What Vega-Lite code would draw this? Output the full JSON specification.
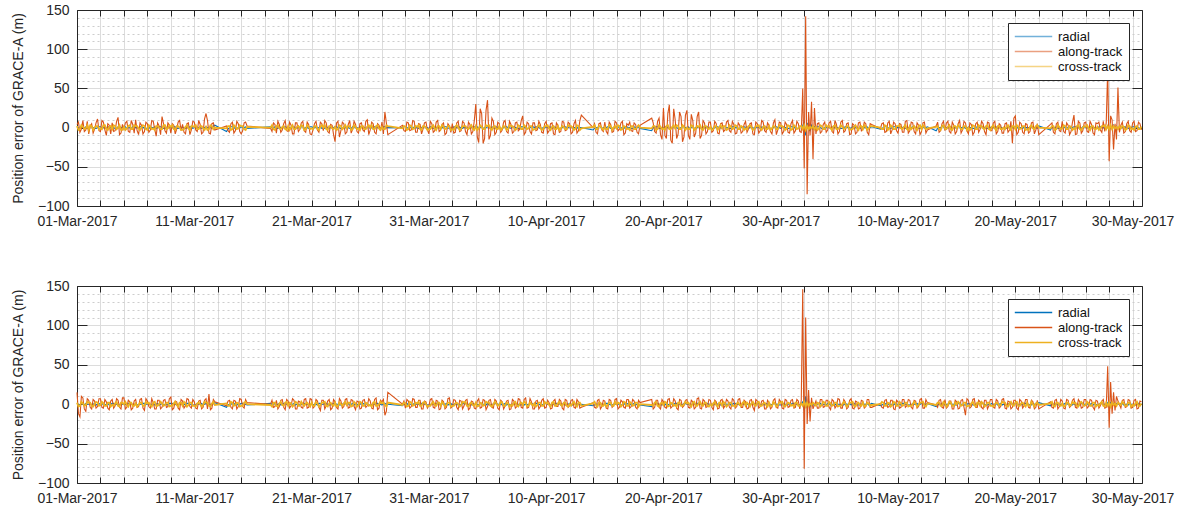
{
  "$schema": "https://vega.github.io/schema/vega-lite/v6.json",
  "background": "white",
  "padding": {"left": 11, "top": 3, "right": 5, "bottom": 5},
  "config": {
    "font": "Liberation Sans",
    "view": {"stroke": null},
    "axis": {
      "labelFont": "Liberation Sans",
      "labelFontSize": 14,
      "labelColor": "#262626",
      "titleFont": "Liberation Sans",
      "titleFontSize": 14,
      "titleFontWeight": "normal",
      "titleColor": "#262626",
      "domainColor": "#262626",
      "domainWidth": 1,
      "tickColor": "#262626",
      "tickWidth": 1,
      "gridColor": "#dcdcdc",
      "gridWidth": 1,
      "labelFlush": false,
      "labelOverlap": false,
      "labelBound": false
    },
    "legend": {
      "orient": "top-right",
      "offset": 13,
      "fillColor": "white",
      "strokeColor": "#262626",
      "padding": 6,
      "symbolType": "stroke",
      "symbolSize": 1400,
      "symbolStrokeWidth": 1.5,
      "clipHeight": 15,
      "labelFont": "Liberation Sans",
      "labelFontSize": 13,
      "labelColor": "#111111",
      "labelOffset": 5,
      "rowPadding": 0
    }
  },
  "datasets": {
    "p1": [
      {"d":0,"r":1,"a":4,"c":2},{"d":0.25,"r":-1,"a":-6,"c":-2},{"d":0.5,"r":0,"a":9,"c":1},{"d":0.75,"r":1,"a":-3,"c":-1},
      {"d":1,"r":0,"a":-8,"c":-3},{"d":1.25,"r":1,"a":5,"c":2},{"d":1.5,"r":-1,"a":-2,"c":0},{"d":1.75,"r":0,"a":11,"c":2},
      {"d":2,"r":1,"a":-5,"c":-1},{"d":2.25,"r":0,"a":7,"c":3},{"d":2.5,"r":-1,"a":-10,"c":-2},{"d":2.75,"r":1,"a":3,"c":1},
      {"d":3,"r":0,"a":6,"c":-2},{"d":3.25,"r":-1,"a":-4,"c":2},{"d":3.5,"r":1,"a":13,"c":0},{"d":3.75,"r":0,"a":-7,"c":-3},
      {"d":4,"r":1,"a":-2,"c":1},{"d":4.25,"r":-1,"a":8,"c":-1},{"d":4.5,"r":0,"a":-6,"c":3},{"d":4.75,"r":1,"a":4,"c":-2},
      {"d":5,"r":0,"a":10,"c":2},{"d":5.25,"r":-1,"a":-9,"c":-1},{"d":5.5,"r":1,"a":3,"c":0},{"d":5.75,"r":0,"a":-5,"c":2},
      {"d":6,"r":-1,"a":5,"c":-3},{"d":6.25,"r":1,"a":-3,"c":1},{"d":6.5,"r":0,"a":8,"c":-1},{"d":6.75,"r":-1,"a":-11,"c":2},
      {"d":7,"r":1,"a":2,"c":0},{"d":7.25,"r":0,"a":14,"c":-2},{"d":7.5,"r":-1,"a":-4,"c":3},{"d":7.75,"r":1,"a":6,"c":-1},
      {"d":8,"r":0,"a":-7,"c":1},{"d":8.25,"r":1,"a":3,"c":-2},{"d":8.5,"r":-1,"a":-2,"c":2},{"d":8.75,"r":0,"a":9,"c":0},
      {"d":9,"r":1,"a":4,"c":-3},{"d":9.25,"r":-1,"a":-8,"c":1},{"d":9.5,"r":0,"a":6,"c":-1},{"d":9.75,"r":1,"a":-3,"c":2},
      {"d":10,"r":0,"a":7,"c":1},{"d":10.25,"r":-1,"a":-5,"c":-2},{"d":10.5,"r":1,"a":4,"c":2},{"d":10.75,"r":0,"a":-6,"c":-1},
      {"d":11,"r":1,"a":18,"c":1},{"d":11.25,"r":0,"a":-7,"c":-2},{"d":11.5,"r":-1,"a":5,"c":2},{"d":11.75,"r":3,"a":-3,"c":0},
      {"d":12.75,"r":-5,"a":2,"c":-1},
      {"d":13,"r":0,"a":-6,"c":2},{"d":13.25,"r":1,"a":7,"c":-2},{"d":13.5,"r":-1,"a":-4,"c":1},{"d":13.75,"r":0,"a":5,"c":-1},
      {"d":14,"r":1,"a":-8,"c":2},{"d":14.25,"r":0,"a":6,"c":-2},{"d":14.5,"r":-1,"a":2,"c":1},
      {"d":16.5,"r":1,"a":-1,"c":0},{"d":16.75,"r":0,"a":6,"c":-2},
      {"d":17,"r":-1,"a":-7,"c":2},{"d":17.25,"r":1,"a":4,"c":-1},{"d":17.5,"r":0,"a":-3,"c":1},{"d":17.75,"r":1,"a":9,"c":-2},
      {"d":18,"r":-1,"a":-5,"c":2},{"d":18.25,"r":0,"a":3,"c":0},{"d":18.5,"r":1,"a":-8,"c":-2},{"d":18.75,"r":0,"a":6,"c":1},
      {"d":19,"r":-1,"a":-2,"c":-1},{"d":19.25,"r":1,"a":8,"c":2},{"d":19.5,"r":0,"a":-6,"c":-2},{"d":19.75,"r":-1,"a":4,"c":1},
      {"d":20,"r":1,"a":-9,"c":-1},{"d":20.25,"r":0,"a":5,"c":2},{"d":20.5,"r":-1,"a":-3,"c":-2},{"d":20.75,"r":1,"a":7,"c":1},
      {"d":21,"r":0,"a":-4,"c":0},{"d":21.25,"r":1,"a":6,"c":-2},{"d":21.5,"r":-1,"a":-7,"c":2},{"d":21.75,"r":0,"a":3,"c":-1},
      {"d":22,"r":1,"a":-18,"c":1},{"d":22.25,"r":0,"a":8,"c":-2},{"d":22.5,"r":-1,"a":-4,"c":2},{"d":22.75,"r":1,"a":5,"c":0},
      {"d":23,"r":0,"a":-6,"c":-1},{"d":23.25,"r":-1,"a":9,"c":2},{"d":23.5,"r":1,"a":-2,"c":-2},{"d":23.75,"r":0,"a":4,"c":1},
      {"d":24,"r":-1,"a":-7,"c":-1},{"d":24.25,"r":1,"a":6,"c":2},{"d":24.5,"r":0,"a":-5,"c":-2},{"d":24.75,"r":1,"a":10,"c":1},
      {"d":25,"r":-1,"a":-3,"c":0},{"d":25.25,"r":0,"a":5,"c":-2},{"d":25.5,"r":1,"a":-8,"c":2},{"d":25.75,"r":0,"a":3,"c":-1},
      {"d":26,"r":-1,"a":7,"c":1},{"d":26.25,"r":1,"a":20,"c":-2},{"d":26.5,"r":0,"a":-9,"c":2},
      {"d":27.75,"r":0,"a":3,"c":-1},
      {"d":28,"r":1,"a":-5,"c":1},{"d":28.25,"r":-1,"a":6,"c":-2},{"d":28.5,"r":0,"a":-3,"c":2},{"d":28.75,"r":1,"a":8,"c":-1},
      {"d":29,"r":0,"a":-6,"c":1},{"d":29.25,"r":-1,"a":4,"c":-2},{"d":29.5,"r":1,"a":-2,"c":2},{"d":29.75,"r":0,"a":7,"c":0},
      {"d":30,"r":-1,"a":-8,"c":-2},{"d":30.25,"r":1,"a":5,"c":1},{"d":30.5,"r":0,"a":-4,"c":-1},{"d":30.75,"r":1,"a":9,"c":2},
      {"d":31,"r":-1,"a":-3,"c":-2},{"d":31.25,"r":0,"a":6,"c":1},{"d":31.5,"r":1,"a":-7,"c":-1},{"d":31.75,"r":0,"a":2,"c":2},
      {"d":32,"r":-1,"a":5,"c":-2},{"d":32.25,"r":1,"a":-6,"c":1},{"d":32.5,"r":0,"a":8,"c":0},{"d":32.75,"r":-1,"a":-4,"c":-2},
      {"d":33,"r":1,"a":6,"c":2},{"d":33.25,"r":0,"a":-9,"c":-1},{"d":33.5,"r":-1,"a":4,"c":1},{"d":33.75,"r":1,"a":-5,"c":-2},
      {"d":34,"r":0,"a":30,"c":2},{"d":34.25,"r":-1,"a":-19,"c":-1},{"d":34.5,"r":1,"a":18,"c":1},{"d":34.75,"r":0,"a":-14,"c":-2},
      {"d":35,"r":1,"a":35,"c":2},{"d":35.25,"r":-1,"a":-10,"c":-1},{"d":35.5,"r":0,"a":8,"c":1},{"d":35.75,"r":1,"a":-6,"c":-2},
      {"d":36,"r":0,"a":5,"c":2},{"d":36.25,"r":-1,"a":-3,"c":-1},{"d":36.5,"r":1,"a":9,"c":1},{"d":36.75,"r":0,"a":-7,"c":-2},
      {"d":37,"r":-1,"a":4,"c":2},{"d":37.25,"r":1,"a":-5,"c":0},{"d":37.5,"r":0,"a":7,"c":-1},{"d":37.75,"r":-1,"a":-2,"c":2},
      {"d":38,"r":1,"a":15,"c":-2},{"d":38.25,"r":0,"a":-6,"c":1},{"d":38.5,"r":-1,"a":5,"c":-1},{"d":38.75,"r":1,"a":-8,"c":2},
      {"d":39,"r":0,"a":6,"c":-2},{"d":39.25,"r":1,"a":-3,"c":1},{"d":39.5,"r":-1,"a":4,"c":0},{"d":39.75,"r":0,"a":-7,"c":-2},
      {"d":40,"r":1,"a":8,"c":2},{"d":40.25,"r":0,"a":-4,"c":-1},{"d":40.5,"r":-1,"a":6,"c":1},{"d":40.75,"r":1,"a":-9,"c":-2},
      {"d":41,"r":0,"a":3,"c":2},{"d":41.25,"r":-1,"a":-5,"c":-1},{"d":41.5,"r":1,"a":7,"c":1},{"d":41.75,"r":0,"a":-3,"c":-2},
      {"d":42,"r":1,"a":5,"c":2},{"d":42.25,"r":-1,"a":-6,"c":0},{"d":42.5,"r":0,"a":9,"c":-1},{"d":42.75,"r":1,"a":-4,"c":2},
      {"d":43,"r":0,"a":16,"c":-1},
      {"d":44,"r":-3,"a":0,"c":1},{"d":44.25,"r":0,"a":-6,"c":-2},{"d":44.5,"r":1,"a":5,"c":2},{"d":44.75,"r":-1,"a":-3,"c":-1},
      {"d":45,"r":0,"a":7,"c":1},{"d":45.25,"r":1,"a":-8,"c":-2},{"d":45.5,"r":-1,"a":4,"c":2},{"d":45.75,"r":0,"a":-5,"c":0},
      {"d":46,"r":1,"a":6,"c":-1},{"d":46.25,"r":0,"a":-2,"c":2},{"d":46.5,"r":-1,"a":8,"c":-2},{"d":46.75,"r":1,"a":-7,"c":1},
      {"d":47,"r":0,"a":3,"c":-1},{"d":47.25,"r":-1,"a":-4,"c":2},{"d":47.5,"r":1,"a":6,"c":-2},{"d":47.75,"r":0,"a":-6,"c":1},
      {"d":48,"r":-1,"a":3,"c":0},
      {"d":49,"r":-4,"a":12,"c":-1},{"d":49.25,"r":0,"a":-5,"c":2},{"d":49.5,"r":1,"a":8,"c":-2},{"d":49.75,"r":-1,"a":-9,"c":1},
      {"d":50,"r":0,"a":25,"c":-1},{"d":50.25,"r":1,"a":-14,"c":2},{"d":50.5,"r":-1,"a":29,"c":-2},{"d":50.75,"r":0,"a":-20,"c":1},
      {"d":51,"r":1,"a":10,"c":-1},{"d":51.25,"r":-1,"a":-8,"c":2},{"d":51.5,"r":0,"a":14,"c":-2},{"d":51.75,"r":1,"a":-12,"c":1},
      {"d":52,"r":0,"a":22,"c":0},{"d":52.25,"r":-1,"a":-15,"c":-2},{"d":52.5,"r":1,"a":9,"c":2},{"d":52.75,"r":0,"a":-7,"c":-1},
      {"d":53,"r":1,"a":20,"c":1},{"d":53.25,"r":-1,"a":-10,"c":-2},{"d":53.5,"r":0,"a":6,"c":2},{"d":53.75,"r":1,"a":-5,"c":-1},
      {"d":54,"r":0,"a":7,"c":1},{"d":54.25,"r":-1,"a":-4,"c":-2},{"d":54.5,"r":1,"a":5,"c":2},{"d":54.75,"r":0,"a":-8,"c":0},
      {"d":55,"r":-1,"a":6,"c":-1},{"d":55.25,"r":1,"a":-3,"c":2},{"d":55.5,"r":0,"a":9,"c":-2},{"d":55.75,"r":-1,"a":-6,"c":1},
      {"d":56,"r":1,"a":4,"c":-1},{"d":56.25,"r":0,"a":-7,"c":2},{"d":56.5,"r":-1,"a":3,"c":-2},{"d":56.75,"r":1,"a":-5,"c":1},
      {"d":57,"r":0,"a":8,"c":-1},{"d":57.25,"r":-1,"a":-2,"c":2},{"d":57.5,"r":1,"a":6,"c":0},{"d":57.75,"r":0,"a":-9,"c":-2},
      {"d":58,"r":1,"a":5,"c":2},{"d":58.25,"r":-1,"a":-4,"c":-1},{"d":58.5,"r":0,"a":7,"c":1},{"d":58.75,"r":1,"a":-6,"c":-2},
      {"d":59,"r":0,"a":3,"c":2},{"d":59.25,"r":-1,"a":-8,"c":-1},{"d":59.5,"r":1,"a":10,"c":1},{"d":59.75,"r":0,"a":-3,"c":-2},
      {"d":60,"r":-1,"a":6,"c":2},{"d":60.25,"r":1,"a":-5,"c":0},{"d":60.5,"r":0,"a":4,"c":-1},{"d":60.75,"r":-1,"a":-7,"c":2},
      {"d":61,"r":1,"a":9,"c":-2},{"d":61.25,"r":0,"a":-4,"c":1},{"d":61.5,"r":-1,"a":5,"c":-1},{"d":61.75,"r":1,"a":-6,"c":2},
      {"d":61.875,"r":2,"a":50,"c":-2},{"d":62,"r":8,"a":-52,"c":3},{"d":62.125,"r":-10,"a":142,"c":-3},{"d":62.25,"r":6,"a":-85,"c":2},
      {"d":62.375,"r":-3,"a":20,"c":-2},{"d":62.5,"r":-4,"a":-10,"c":1},{"d":62.625,"r":3,"a":33,"c":-1},{"d":62.75,"r":-2,"a":-40,"c":2},
      {"d":62.875,"r":1,"a":25,"c":-2},
      {"d":63,"r":0,"a":-8,"c":1},{"d":63.25,"r":1,"a":6,"c":-1},{"d":63.5,"r":-1,"a":-5,"c":2},{"d":63.75,"r":0,"a":7,"c":-2},
      {"d":64,"r":1,"a":-3,"c":1},{"d":64.25,"r":-1,"a":8,"c":-1},{"d":64.5,"r":0,"a":-7,"c":2},{"d":64.75,"r":1,"a":4,"c":-2},
      {"d":65,"r":0,"a":-5,"c":0},{"d":65.25,"r":-1,"a":9,"c":1},{"d":65.5,"r":1,"a":-4,"c":-1},{"d":65.75,"r":0,"a":6,"c":2},
      {"d":66,"r":-1,"a":-8,"c":-2},{"d":66.25,"r":1,"a":3,"c":1},{"d":66.5,"r":0,"a":-6,"c":-1},{"d":66.75,"r":-1,"a":7,"c":2},
      {"d":67,"r":1,"a":-2,"c":-2},{"d":67.25,"r":0,"a":5,"c":1},{"d":67.5,"r":-1,"a":-9,"c":-1},{"d":67.75,"r":1,"a":4,"c":2},
      {"d":68.5,"r":-2,"a":-1,"c":0},{"d":68.75,"r":0,"a":6,"c":-2},
      {"d":69,"r":1,"a":-5,"c":2},{"d":69.25,"r":-1,"a":8,"c":-1},{"d":69.5,"r":0,"a":-3,"c":1},{"d":69.75,"r":1,"a":5,"c":-2},
      {"d":70,"r":0,"a":-7,"c":2},{"d":70.25,"r":-1,"a":4,"c":-1},{"d":70.5,"r":1,"a":-6,"c":1},{"d":70.75,"r":0,"a":9,"c":-2},
      {"d":71,"r":-1,"a":-4,"c":2},{"d":71.25,"r":1,"a":6,"c":0},{"d":71.5,"r":0,"a":-8,"c":-1},{"d":71.75,"r":-1,"a":3,"c":2},
      {"d":72,"r":1,"a":-5,"c":-2},{"d":72.25,"r":0,"a":7,"c":1},{"d":72.5,"r":1,"a":-3,"c":-1},
      {"d":73.25,"r":-4,"a":2,"c":1},{"d":73.5,"r":0,"a":-6,"c":-2},{"d":73.75,"r":1,"a":5,"c":2},
      {"d":74,"r":-1,"a":-4,"c":-1},{"d":74.25,"r":0,"a":8,"c":1},{"d":74.5,"r":1,"a":-7,"c":-2},{"d":74.75,"r":0,"a":3,"c":2},
      {"d":75,"r":-1,"a":-5,"c":-1},{"d":75.25,"r":1,"a":9,"c":1},{"d":75.5,"r":0,"a":-3,"c":-2},{"d":75.75,"r":-1,"a":6,"c":2},
      {"d":76,"r":1,"a":-8,"c":0},{"d":76.25,"r":0,"a":4,"c":-1},{"d":76.5,"r":-1,"a":-6,"c":2},{"d":76.75,"r":1,"a":7,"c":-2},
      {"d":77,"r":0,"a":-2,"c":1},{"d":77.25,"r":1,"a":5,"c":-1},{"d":77.5,"r":-1,"a":-9,"c":2},{"d":77.75,"r":0,"a":6,"c":-2},
      {"d":78,"r":1,"a":-4,"c":1},{"d":78.25,"r":0,"a":8,"c":-1},{"d":78.5,"r":-1,"a":-5,"c":2},{"d":78.75,"r":1,"a":3,"c":-2},
      {"d":79,"r":0,"a":-7,"c":0},{"d":79.25,"r":-1,"a":6,"c":1},{"d":79.5,"r":1,"a":-3,"c":-1},{"d":79.75,"r":0,"a":-20,"c":2},
      {"d":80,"r":1,"a":15,"c":-2},{"d":80.25,"r":-1,"a":-6,"c":1},{"d":80.5,"r":0,"a":5,"c":-1},{"d":80.75,"r":1,"a":-8,"c":2},
      {"d":81,"r":0,"a":4,"c":-2},{"d":81.25,"r":-1,"a":-5,"c":1},{"d":81.5,"r":1,"a":7,"c":-1},{"d":81.75,"r":0,"a":-3,"c":2},
      {"d":82,"r":2,"a":-9,"c":0},
      {"d":83,"r":-3,"a":4,"c":-1},{"d":83.25,"r":0,"a":-6,"c":2},{"d":83.5,"r":1,"a":5,"c":-2},{"d":83.75,"r":-1,"a":-4,"c":1},
      {"d":84,"r":0,"a":8,"c":-1},{"d":84.25,"r":1,"a":-7,"c":2},{"d":84.5,"r":0,"a":3,"c":-2},{"d":84.75,"r":-1,"a":-5,"c":1},
      {"d":85,"r":1,"a":16,"c":-1},{"d":85.25,"r":0,"a":-8,"c":2},{"d":85.5,"r":-1,"a":6,"c":-2},{"d":85.75,"r":1,"a":-4,"c":0},
      {"d":86,"r":0,"a":7,"c":1},{"d":86.25,"r":-1,"a":-6,"c":-1},{"d":86.5,"r":1,"a":4,"c":2},{"d":86.75,"r":0,"a":-9,"c":-2},
      {"d":87,"r":-1,"a":5,"c":1},{"d":87.25,"r":1,"a":-3,"c":-1},{"d":87.5,"r":0,"a":8,"c":2},{"d":87.75,"r":-1,"a":6,"c":-2},
      {"d":87.875,"r":2,"a":74,"c":2},{"d":88,"r":-3,"a":-43,"c":-2},{"d":88.125,"r":2,"a":15,"c":3},{"d":88.25,"r":-2,"a":10,"c":-2},
      {"d":88.375,"r":3,"a":-28,"c":2},{"d":88.5,"r":-1,"a":5,"c":-1},{"d":88.625,"r":2,"a":-15,"c":1},{"d":88.75,"r":-2,"a":51,"c":-2},
      {"d":88.875,"r":1,"a":-6,"c":2},
      {"d":89,"r":0,"a":3,"c":-1},{"d":89.25,"r":1,"a":-7,"c":1},{"d":89.5,"r":-1,"a":5,"c":-2},{"d":89.75,"r":0,"a":-4,"c":2},
      {"d":90,"r":1,"a":6,"c":-1},{"d":90.25,"r":-1,"a":-5,"c":1},{"d":90.5,"r":0,"a":7,"c":-2},{"d":90.75,"r":1,"a":-3,"c":1},
      {"d":0.125,"r":0,"a":7,"c":-3},{"d":0.375,"r":1,"a":-2,"c":3},{"d":0.625,"r":-1,"a":-5,"c":-2},{"d":0.875,"r":0,"a":8,"c":3},
      {"d":1.125,"r":1,"a":2,"c":3},{"d":1.375,"r":0,"a":-7,"c":-3},{"d":1.625,"r":-1,"a":6,"c":2},{"d":1.875,"r":1,"a":-4,"c":-2},
      {"d":2.125,"r":-1,"a":9,"c":-2},{"d":2.375,"r":0,"a":-3,"c":3},{"d":2.625,"r":1,"a":5,"c":-3},{"d":2.875,"r":0,"a":-8,"c":2},
      {"d":3.125,"r":0,"a":-5,"c":3},{"d":3.375,"r":-1,"a":8,"c":-2},{"d":3.625,"r":1,"a":-9,"c":3},{"d":3.875,"r":0,"a":4,"c":-3},
      {"d":4.125,"r":1,"a":6,"c":-3},{"d":4.375,"r":0,"a":-5,"c":2},{"d":4.625,"r":-1,"a":9,"c":-2},{"d":4.875,"r":1,"a":-7,"c":3},
      {"d":5.125,"r":0,"a":-4,"c":2},{"d":5.375,"r":1,"a":6,"c":-3},{"d":5.625,"r":0,"a":-8,"c":3},{"d":5.875,"r":-1,"a":7,"c":-2},
      {"d":6.125,"r":-1,"a":-6,"c":3},{"d":6.375,"r":0,"a":9,"c":-2},{"d":6.625,"r":1,"a":-2,"c":-3},{"d":6.875,"r":0,"a":6,"c":2},
      {"d":7.125,"r":1,"a":-9,"c":-2},{"d":7.375,"r":-1,"a":5,"c":3},{"d":7.625,"r":0,"a":-7,"c":-2},{"d":7.875,"r":1,"a":3,"c":3},
      {"d":8.125,"r":0,"a":5,"c":3},{"d":8.375,"r":1,"a":-8,"c":-3},{"d":8.625,"r":-1,"a":7,"c":2},{"d":8.875,"r":0,"a":-4,"c":-3},
      {"d":9.125,"r":-1,"a":-6,"c":-2},{"d":9.375,"r":0,"a":5,"c":3},{"d":9.625,"r":1,"a":-9,"c":-3},{"d":9.875,"r":-1,"a":8,"c":2},
      {"d":10.125,"r":1,"a":-3,"c":3},{"d":10.375,"r":0,"a":9,"c":-2},{"d":10.625,"r":-1,"a":-8,"c":2},{"d":10.875,"r":0,"a":11,"c":-3},
      {"d":11.125,"r":0,"a":9,"c":-3},{"d":11.375,"r":1,"a":-8,"c":3},{"d":11.625,"r":2,"a":6,"c":-2},
      {"d":12.875,"r":-2,"a":-4,"c":2},
      {"d":13.125,"r":1,"a":5,"c":-3},{"d":13.375,"r":0,"a":-7,"c":3},{"d":13.625,"r":-1,"a":8,"c":-2},{"d":13.875,"r":0,"a":-5,"c":3},
      {"d":14.125,"r":0,"a":-4,"c":2},{"d":14.375,"r":1,"a":7,"c":-3},
      {"d":16.625,"r":0,"a":-5,"c":3},{"d":16.875,"r":1,"a":4,"c":-3},
      {"d":17.125,"r":-1,"a":8,"c":3},{"d":17.375,"r":0,"a":-6,"c":-2},{"d":17.625,"r":1,"a":5,"c":2},{"d":17.875,"r":0,"a":-4,"c":-3},
      {"d":18.125,"r":0,"a":7,"c":-3},{"d":18.375,"r":1,"a":-8,"c":3},{"d":18.625,"r":-1,"a":6,"c":-2},{"d":18.875,"r":0,"a":-5,"c":2},
      {"d":19.125,"r":1,"a":6,"c":3},{"d":19.375,"r":-1,"a":-4,"c":-3},{"d":19.625,"r":0,"a":7,"c":3},{"d":19.875,"r":1,"a":-8,"c":-2},
      {"d":20.125,"r":0,"a":-3,"c":-2},{"d":20.375,"r":1,"a":8,"c":2},{"d":20.625,"r":0,"a":-6,"c":-3},{"d":20.875,"r":-1,"a":5,"c":3},
      {"d":21.125,"r":-1,"a":9,"c":3},{"d":21.375,"r":0,"a":-5,"c":-3},{"d":21.625,"r":1,"a":4,"c":2},{"d":21.875,"r":0,"a":-9,"c":-2},
      {"d":22.125,"r":1,"a":6,"c":-3},{"d":22.375,"r":0,"a":-12,"c":3},{"d":22.625,"r":-1,"a":7,"c":-2},{"d":22.875,"r":0,"a":-8,"c":3},
      {"d":23.125,"r":0,"a":4,"c":2},{"d":23.375,"r":-1,"a":-7,"c":-3},{"d":23.625,"r":1,"a":8,"c":3},{"d":23.875,"r":0,"a":-5,"c":-2},
      {"d":24.125,"r":1,"a":5,"c":-3},{"d":24.375,"r":0,"a":-3,"c":2},{"d":24.625,"r":-1,"a":8,"c":-2},{"d":24.875,"r":1,"a":-9,"c":3},
      {"d":25.125,"r":0,"a":7,"c":3},{"d":25.375,"r":1,"a":-6,"c":-2},{"d":25.625,"r":0,"a":5,"c":3},{"d":25.875,"r":-1,"a":-4,"c":-3},
      {"d":26.125,"r":1,"a":-8,"c":-2},{"d":26.375,"r":0,"a":6,"c":3},
      {"d":27.875,"r":1,"a":-4,"c":2},
      {"d":28.125,"r":0,"a":7,"c":-3},{"d":28.375,"r":1,"a":-4,"c":3},{"d":28.625,"r":-1,"a":9,"c":-2},{"d":28.875,"r":0,"a":-6,"c":2},
      {"d":29.125,"r":-1,"a":5,"c":3},{"d":29.375,"r":0,"a":-8,"c":-3},{"d":29.625,"r":1,"a":6,"c":2},{"d":29.875,"r":0,"a":-3,"c":-3},
      {"d":30.125,"r":1,"a":8,"c":-2},{"d":30.375,"r":-1,"a":-6,"c":3},{"d":30.625,"r":0,"a":7,"c":-3},{"d":30.875,"r":1,"a":-5,"c":2},
      {"d":31.125,"r":0,"a":4,"c":3},{"d":31.375,"r":1,"a":-9,"c":-2},{"d":31.625,"r":-1,"a":5,"c":2},{"d":31.875,"r":0,"a":-6,"c":-3},
      {"d":32.125,"r":1,"a":-7,"c":-3},{"d":32.375,"r":0,"a":6,"c":3},{"d":32.625,"r":1,"a":-5,"c":-3},{"d":32.875,"r":-1,"a":8,"c":2},
      {"d":33.125,"r":0,"a":-5,"c":2},{"d":33.375,"r":-1,"a":7,"c":-2},{"d":33.625,"r":0,"a":-8,"c":3},{"d":33.875,"r":1,"a":9,"c":-3},
      {"d":34.125,"r":1,"a":-12,"c":-3},{"d":34.375,"r":0,"a":24,"c":3},{"d":34.625,"r":-1,"a":-20,"c":-2},{"d":34.875,"r":0,"a":22,"c":3},
      {"d":35.125,"r":0,"a":-15,"c":3},{"d":35.375,"r":1,"a":12,"c":-3},{"d":35.625,"r":-1,"a":-9,"c":2},{"d":35.875,"r":0,"a":7,"c":-2},
      {"d":36.125,"r":-1,"a":-6,"c":-3},{"d":36.375,"r":0,"a":7,"c":2},{"d":36.625,"r":1,"a":-5,"c":-3},{"d":36.875,"r":0,"a":8,"c":3},
      {"d":37.125,"r":1,"a":-7,"c":2},{"d":37.375,"r":0,"a":6,"c":-3},{"d":37.625,"r":-1,"a":-4,"c":3},{"d":37.875,"r":1,"a":9,"c":-2},
      {"d":38.125,"r":0,"a":-9,"c":3},{"d":38.375,"r":-1,"a":7,"c":-2},{"d":38.625,"r":0,"a":-5,"c":2},{"d":38.875,"r":1,"a":6,"c":-3},
      {"d":39.125,"r":1,"a":-4,"c":-2},{"d":39.375,"r":0,"a":8,"c":3},{"d":39.625,"r":-1,"a":-6,"c":-3},{"d":39.875,"r":0,"a":5,"c":2},
      {"d":40.125,"r":0,"a":-7,"c":3},{"d":40.375,"r":1,"a":5,"c":-3},{"d":40.625,"r":0,"a":-8,"c":2},{"d":40.875,"r":-1,"a":6,"c":-2},
      {"d":41.125,"r":-1,"a":-6,"c":-3},{"d":41.375,"r":0,"a":8,"c":2},{"d":41.625,"r":1,"a":-4,"c":-2},{"d":41.875,"r":0,"a":7,"c":3},
      {"d":42.125,"r":1,"a":-8,"c":2},{"d":42.375,"r":0,"a":5,"c":-3},{"d":42.625,"r":-1,"a":-7,"c":3},{"d":42.875,"r":0,"a":9,"c":-3},
      {"d":44.125,"r":-1,"a":5,"c":3},{"d":44.375,"r":0,"a":-8,"c":-2},{"d":44.625,"r":1,"a":6,"c":2},{"d":44.875,"r":0,"a":-5,"c":-3},
      {"d":45.125,"r":0,"a":-5,"c":-2},{"d":45.375,"r":1,"a":7,"c":3},{"d":45.625,"r":-1,"a":-6,"c":-3},{"d":45.875,"r":0,"a":8,"c":2},
      {"d":46.125,"r":1,"a":-4,"c":3},{"d":46.375,"r":0,"a":6,"c":-3},{"d":46.625,"r":-1,"a":-9,"c":2},{"d":46.875,"r":1,"a":5,"c":-2},
      {"d":47.125,"r":0,"a":7,"c":-3},{"d":47.375,"r":-1,"a":-5,"c":2},{"d":47.625,"r":0,"a":4,"c":-2},{"d":47.875,"r":1,"a":-8,"c":3},
      {"d":49.125,"r":0,"a":6,"c":2},{"d":49.375,"r":1,"a":-7,"c":-3},{"d":49.625,"r":-1,"a":12,"c":3},{"d":49.875,"r":0,"a":-15,"c":-2},
      {"d":50.125,"r":1,"a":-10,"c":-3},{"d":50.375,"r":0,"a":18,"c":3},{"d":50.625,"r":-1,"a":-16,"c":-2},{"d":50.875,"r":1,"a":24,"c":3},
      {"d":51.125,"r":0,"a":-14,"c":3},{"d":51.375,"r":-1,"a":20,"c":-2},{"d":51.625,"r":1,"a":-18,"c":3},{"d":51.875,"r":0,"a":16,"c":-3},
      {"d":52.125,"r":1,"a":-10,"c":-2},{"d":52.375,"r":0,"a":17,"c":3},{"d":52.625,"r":-1,"a":-12,"c":-3},{"d":52.875,"r":0,"a":14,"c":2},
      {"d":53.125,"r":0,"a":-14,"c":3},{"d":53.375,"r":1,"a":9,"c":-3},{"d":53.625,"r":0,"a":-8,"c":2},{"d":53.875,"r":-1,"a":7,"c":-2},
      {"d":54.125,"r":-1,"a":-6,"c":-3},{"d":54.375,"r":0,"a":8,"c":2},{"d":54.625,"r":1,"a":-7,"c":-3},{"d":54.875,"r":0,"a":5,"c":3},
      {"d":55.125,"r":1,"a":-5,"c":2},{"d":55.375,"r":0,"a":7,"c":-3},{"d":55.625,"r":-1,"a":-4,"c":3},{"d":55.875,"r":1,"a":8,"c":-2},
      {"d":56.125,"r":0,"a":-8,"c":3},{"d":56.375,"r":-1,"a":6,"c":-2},{"d":56.625,"r":0,"a":-7,"c":2},{"d":56.875,"r":1,"a":4,"c":-3},
      {"d":57.125,"r":1,"a":-6,"c":-2},{"d":57.375,"r":0,"a":5,"c":3},{"d":57.625,"r":-1,"a":-8,"c":-3},{"d":57.875,"r":0,"a":7,"c":2},
      {"d":58.125,"r":0,"a":-7,"c":3},{"d":58.375,"r":1,"a":9,"c":-3},{"d":58.625,"r":0,"a":-4,"c":2},{"d":58.875,"r":-1,"a":6,"c":-2},
      {"d":59.125,"r":-1,"a":-5,"c":-3},{"d":59.375,"r":0,"a":6,"c":2},{"d":59.625,"r":1,"a":-9,"c":-2},{"d":59.875,"r":0,"a":7,"c":3},
      {"d":60.125,"r":1,"a":-8,"c":2},{"d":60.375,"r":0,"a":7,"c":-3},{"d":60.625,"r":-1,"a":-6,"c":3},{"d":60.875,"r":1,"a":5,"c":-3},
      {"d":61.125,"r":0,"a":-7,"c":3},{"d":61.375,"r":-1,"a":8,"c":-2},{"d":61.625,"r":1,"a":-5,"c":2},
      {"d":63.125,"r":1,"a":5,"c":-3},{"d":63.375,"r":0,"a":-7,"c":3},{"d":63.625,"r":-1,"a":4,"c":-2},{"d":63.875,"r":0,"a":-6,"c":3},
      {"d":64.125,"r":0,"a":6,"c":2},{"d":64.375,"r":1,"a":-5,"c":-3},{"d":64.625,"r":0,"a":9,"c":3},{"d":64.875,"r":-1,"a":-8,"c":-2},
      {"d":65.125,"r":-1,"a":7,"c":3},{"d":65.375,"r":0,"a":-6,"c":-2},{"d":65.625,"r":1,"a":5,"c":2},{"d":65.875,"r":0,"a":-9,"c":-3},
      {"d":66.125,"r":1,"a":5,"c":-2},{"d":66.375,"r":0,"a":-8,"c":3},{"d":66.625,"r":-1,"a":6,"c":-3},{"d":66.875,"r":0,"a":-4,"c":2},
      {"d":67.125,"r":0,"a":7,"c":3},{"d":67.375,"r":1,"a":-6,"c":-3},{"d":67.625,"r":0,"a":5,"c":2},
      {"d":68.625,"r":-1,"a":5,"c":-2},{"d":68.875,"r":1,"a":-6,"c":3},
      {"d":69.125,"r":0,"a":6,"c":-3},{"d":69.375,"r":-1,"a":-8,"c":3},{"d":69.625,"r":1,"a":7,"c":-2},{"d":69.875,"r":0,"a":-4,"c":2},
      {"d":70.125,"r":1,"a":5,"c":3},{"d":70.375,"r":0,"a":-6,"c":-2},{"d":70.625,"r":-1,"a":8,"c":3},{"d":70.875,"r":0,"a":-7,"c":-3},
      {"d":71.125,"r":0,"a":7,"c":-2},{"d":71.375,"r":1,"a":-5,"c":2},{"d":71.625,"r":0,"a":6,"c":-3},{"d":71.875,"r":-1,"a":-9,"c":3},
      {"d":72.125,"r":1,"a":6,"c":3},{"d":72.375,"r":0,"a":-7,"c":-2},
      {"d":73.375,"r":-1,"a":7,"c":2},{"d":73.625,"r":0,"a":-4,"c":-3},{"d":73.875,"r":1,"a":8,"c":3},
      {"d":74.125,"r":0,"a":6,"c":-2},{"d":74.375,"r":1,"a":-5,"c":3},{"d":74.625,"r":-1,"a":7,"c":-3},{"d":74.875,"r":0,"a":-8,"c":2},
      {"d":75.125,"r":1,"a":5,"c":3},{"d":75.375,"r":0,"a":-7,"c":-2},{"d":75.625,"r":1,"a":8,"c":2},{"d":75.875,"r":-1,"a":-4,"c":-3},
      {"d":76.125,"r":0,"a":6,"c":-3},{"d":76.375,"r":-1,"a":-9,"c":3},{"d":76.625,"r":0,"a":5,"c":-2},{"d":76.875,"r":1,"a":-6,"c":3},
      {"d":77.125,"r":1,"a":8,"c":2},{"d":77.375,"r":0,"a":-5,"c":-2},{"d":77.625,"r":-1,"a":7,"c":3},{"d":77.875,"r":0,"a":-4,"c":-3},
      {"d":78.125,"r":0,"a":6,"c":3},{"d":78.375,"r":1,"a":-8,"c":-3},{"d":78.625,"r":0,"a":5,"c":2},{"d":78.875,"r":-1,"a":-7,"c":-2},
      {"d":79.125,"r":-1,"a":5,"c":-2},{"d":79.375,"r":0,"a":-6,"c":3},{"d":79.625,"r":1,"a":8,"c":-3},{"d":79.875,"r":0,"a":12,"c":2},
      {"d":80.125,"r":1,"a":-9,"c":3},{"d":80.375,"r":0,"a":7,"c":-2},{"d":80.625,"r":-1,"a":-6,"c":2},{"d":80.875,"r":0,"a":5,"c":-3},
      {"d":81.125,"r":0,"a":-7,"c":-3},{"d":81.375,"r":1,"a":6,"c":3},{"d":81.625,"r":0,"a":-8,"c":-2},{"d":81.875,"r":-1,"a":5,"c":3},
      {"d":83.125,"r":1,"a":6,"c":2},{"d":83.375,"r":0,"a":-8,"c":-3},{"d":83.625,"r":-1,"a":7,"c":3},{"d":83.875,"r":0,"a":-5,"c":-2},
      {"d":84.125,"r":0,"a":-5,"c":3},{"d":84.375,"r":-1,"a":6,"c":-2},{"d":84.625,"r":1,"a":-9,"c":2},{"d":84.875,"r":0,"a":7,"c":-3},
      {"d":85.125,"r":1,"a":-9,"c":-2},{"d":85.375,"r":0,"a":8,"c":3},{"d":85.625,"r":-1,"a":-7,"c":-3},{"d":85.875,"r":1,"a":6,"c":2},
      {"d":86.125,"r":0,"a":-5,"c":3},{"d":86.375,"r":1,"a":8,"c":-3},{"d":86.625,"r":0,"a":-7,"c":2},{"d":86.875,"r":-1,"a":6,"c":-2},
      {"d":87.125,"r":1,"a":7,"c":-3},{"d":87.375,"r":0,"a":-6,"c":2},{"d":87.625,"r":-1,"a":-5,"c":3},
      {"d":89.125,"r":0,"a":7,"c":2},{"d":89.375,"r":1,"a":-5,"c":-3},{"d":89.625,"r":-1,"a":8,"c":3},{"d":89.875,"r":0,"a":-6,"c":-2},
      {"d":90.125,"r":1,"a":8,"c":-3},{"d":90.375,"r":0,"a":-4,"c":2},{"d":90.625,"r":-1,"a":5,"c":-2}
    ],
    "p2": [
      {"d":0,"r":1,"a":15,"c":2},{"d":0.25,"r":-1,"a":-16,"c":-2},{"d":0.5,"r":0,"a":8,"c":1},{"d":0.75,"r":1,"a":-9,"c":-1},
      {"d":1,"r":0,"a":5,"c":2},{"d":1.25,"r":-1,"a":-6,"c":-2},{"d":1.5,"r":1,"a":4,"c":0},{"d":1.75,"r":0,"a":-3,"c":2},
      {"d":2,"r":-1,"a":7,"c":-1},{"d":2.25,"r":1,"a":-5,"c":1},{"d":2.5,"r":0,"a":3,"c":-2},{"d":2.75,"r":-1,"a":-7,"c":2},
      {"d":3,"r":1,"a":6,"c":-1},{"d":3.25,"r":0,"a":-2,"c":1},{"d":3.5,"r":-1,"a":5,"c":-2},{"d":3.75,"r":1,"a":-6,"c":2},
      {"d":4,"r":0,"a":8,"c":0},{"d":4.25,"r":-1,"a":-4,"c":-1},{"d":4.5,"r":1,"a":3,"c":2},{"d":4.75,"r":0,"a":-5,"c":-2},
      {"d":5,"r":1,"a":6,"c":1},{"d":5.25,"r":-1,"a":-3,"c":-1},{"d":5.5,"r":0,"a":7,"c":2},{"d":5.75,"r":1,"a":-8,"c":-2},
      {"d":6,"r":0,"a":4,"c":1},{"d":6.25,"r":-1,"a":-5,"c":-1},{"d":6.5,"r":1,"a":2,"c":2},{"d":6.75,"r":0,"a":-6,"c":-2},
      {"d":7,"r":-1,"a":5,"c":0},{"d":7.25,"r":1,"a":-4,"c":1},{"d":7.5,"r":0,"a":6,"c":-1},{"d":7.75,"r":-1,"a":-3,"c":2},
      {"d":8,"r":1,"a":9,"c":-2},{"d":8.25,"r":0,"a":-5,"c":1},{"d":8.5,"r":-1,"a":3,"c":-1},{"d":8.75,"r":1,"a":-7,"c":2},
      {"d":9,"r":0,"a":4,"c":-2},{"d":9.25,"r":-1,"a":-2,"c":1},{"d":9.5,"r":1,"a":6,"c":-1},{"d":9.75,"r":0,"a":-5,"c":2},
      {"d":10,"r":-1,"a":3,"c":-2},{"d":10.25,"r":1,"a":-6,"c":1},{"d":10.5,"r":0,"a":5,"c":0},{"d":10.75,"r":-1,"a":-4,"c":-1},
      {"d":11,"r":1,"a":7,"c":2},{"d":11.25,"r":0,"a":13,"c":-2},{"d":11.5,"r":-1,"a":-5,"c":1},{"d":11.75,"r":2,"a":3,"c":-1},
      {"d":12.75,"r":-4,"a":-2,"c":1},
      {"d":13,"r":0,"a":5,"c":-2},{"d":13.25,"r":1,"a":-6,"c":2},{"d":13.5,"r":-1,"a":4,"c":-1},{"d":13.75,"r":0,"a":-3,"c":1},
      {"d":14,"r":1,"a":6,"c":-2},{"d":14.25,"r":0,"a":-5,"c":2},{"d":14.5,"r":-1,"a":2,"c":0},
      {"d":16.5,"r":1,"a":0,"c":-1},{"d":16.75,"r":0,"a":-4,"c":2},
      {"d":17,"r":-1,"a":5,"c":-2},{"d":17.25,"r":1,"a":-3,"c":1},{"d":17.5,"r":0,"a":6,"c":-1},{"d":17.75,"r":1,"a":-7,"c":2},
      {"d":18,"r":-1,"a":4,"c":-2},{"d":18.25,"r":0,"a":-2,"c":1},{"d":18.5,"r":1,"a":5,"c":-1},{"d":18.75,"r":0,"a":-6,"c":2},
      {"d":19,"r":-1,"a":3,"c":-2},{"d":19.25,"r":1,"a":-5,"c":0},{"d":19.5,"r":0,"a":7,"c":1},{"d":19.75,"r":-1,"a":-4,"c":-1},
      {"d":20,"r":1,"a":6,"c":2},{"d":20.25,"r":0,"a":-3,"c":-2},{"d":20.5,"r":-1,"a":4,"c":1},{"d":20.75,"r":1,"a":-8,"c":-1},
      {"d":21,"r":0,"a":5,"c":2},{"d":21.25,"r":1,"a":-2,"c":-2},{"d":21.5,"r":-1,"a":6,"c":1},{"d":21.75,"r":0,"a":-5,"c":-1},
      {"d":22,"r":1,"a":3,"c":2},{"d":22.25,"r":0,"a":-6,"c":-2},{"d":22.5,"r":-1,"a":4,"c":0},{"d":22.75,"r":1,"a":-3,"c":1},
      {"d":23,"r":0,"a":7,"c":-1},{"d":23.25,"r":-1,"a":-4,"c":2},{"d":23.5,"r":1,"a":5,"c":-2},{"d":23.75,"r":0,"a":-7,"c":1},
      {"d":24,"r":-1,"a":3,"c":-1},{"d":24.25,"r":1,"a":-5,"c":2},{"d":24.5,"r":0,"a":6,"c":-2},{"d":24.75,"r":1,"a":-2,"c":1},
      {"d":25,"r":-1,"a":4,"c":-1},{"d":25.25,"r":0,"a":-6,"c":2},{"d":25.5,"r":1,"a":8,"c":-2},{"d":25.75,"r":0,"a":-5,"c":0},
      {"d":26,"r":-1,"a":3,"c":1},{"d":26.25,"r":1,"a":-14,"c":-1},{"d":26.5,"r":0,"a":15,"c":2},
      {"d":27.75,"r":-2,"a":0,"c":-1},
      {"d":28,"r":1,"a":-5,"c":1},{"d":28.25,"r":-1,"a":4,"c":-2},{"d":28.5,"r":0,"a":-3,"c":2},{"d":28.75,"r":1,"a":6,"c":-1},
      {"d":29,"r":0,"a":-4,"c":1},{"d":29.25,"r":-1,"a":5,"c":-2},{"d":29.5,"r":1,"a":-6,"c":2},{"d":29.75,"r":0,"a":3,"c":0},
      {"d":30,"r":-1,"a":-2,"c":-2},{"d":30.25,"r":1,"a":7,"c":1},{"d":30.5,"r":0,"a":-5,"c":-1},{"d":30.75,"r":1,"a":4,"c":2},
      {"d":31,"r":-1,"a":-6,"c":-2},{"d":31.25,"r":0,"a":3,"c":1},{"d":31.5,"r":1,"a":-4,"c":-1},{"d":31.75,"r":0,"a":8,"c":2},
      {"d":32,"r":-1,"a":-3,"c":-2},{"d":32.25,"r":1,"a":5,"c":1},{"d":32.5,"r":0,"a":-7,"c":0},{"d":32.75,"r":-1,"a":4,"c":-1},
      {"d":33,"r":1,"a":-2,"c":2},{"d":33.25,"r":0,"a":6,"c":-2},{"d":33.5,"r":-1,"a":-5,"c":1},{"d":33.75,"r":1,"a":3,"c":-1},
      {"d":34,"r":0,"a":-6,"c":2},{"d":34.25,"r":-1,"a":7,"c":-2},{"d":34.5,"r":1,"a":-4,"c":1},{"d":34.75,"r":0,"a":5,"c":-1},
      {"d":35,"r":1,"a":-3,"c":2},{"d":35.25,"r":-1,"a":6,"c":-2},{"d":35.5,"r":0,"a":-5,"c":0},{"d":35.75,"r":1,"a":4,"c":1},
      {"d":36,"r":0,"a":-7,"c":-1},{"d":36.25,"r":-1,"a":3,"c":2},{"d":36.5,"r":1,"a":-2,"c":-2},{"d":36.75,"r":0,"a":5,"c":1},
      {"d":37,"r":-1,"a":-6,"c":-1},{"d":37.25,"r":1,"a":4,"c":2},{"d":37.5,"r":0,"a":-3,"c":-2},{"d":37.75,"r":-1,"a":6,"c":1},
      {"d":38,"r":1,"a":-5,"c":-1},{"d":38.25,"r":0,"a":8,"c":2},{"d":38.5,"r":-1,"a":-4,"c":-2},{"d":38.75,"r":1,"a":3,"c":0},
      {"d":39,"r":0,"a":-6,"c":1},{"d":39.25,"r":1,"a":5,"c":-1},{"d":39.5,"r":-1,"a":-3,"c":2},{"d":39.75,"r":0,"a":7,"c":-2},
      {"d":40,"r":1,"a":-4,"c":1},{"d":40.25,"r":0,"a":2,"c":-1},{"d":40.5,"r":-1,"a":-5,"c":2},{"d":40.75,"r":1,"a":6,"c":-2},
      {"d":41,"r":0,"a":-3,"c":1},{"d":41.25,"r":-1,"a":4,"c":-1},{"d":41.5,"r":1,"a":-7,"c":2},{"d":41.75,"r":0,"a":5,"c":-2},
      {"d":42,"r":1,"a":-2,"c":0},{"d":42.25,"r":-1,"a":6,"c":1},{"d":42.5,"r":0,"a":-5,"c":-1},{"d":42.75,"r":1,"a":3,"c":2},
      {"d":43,"r":0,"a":-4,"c":-2},
      {"d":44,"r":-2,"a":2,"c":1},{"d":44.25,"r":0,"a":-5,"c":-1},{"d":44.5,"r":1,"a":6,"c":2},{"d":44.75,"r":-1,"a":-3,"c":-2},
      {"d":45,"r":0,"a":4,"c":1},{"d":45.25,"r":1,"a":-6,"c":-1},{"d":45.5,"r":-1,"a":5,"c":2},{"d":45.75,"r":0,"a":-2,"c":-2},
      {"d":46,"r":1,"a":7,"c":0},{"d":46.25,"r":0,"a":-4,"c":1},{"d":46.5,"r":-1,"a":3,"c":-1},{"d":46.75,"r":1,"a":-5,"c":2},
      {"d":47,"r":0,"a":6,"c":-2},{"d":47.25,"r":-1,"a":-3,"c":1},{"d":47.5,"r":1,"a":4,"c":-1},{"d":47.75,"r":0,"a":-6,"c":2},
      {"d":48,"r":-1,"a":2,"c":0},
      {"d":49,"r":-3,"a":6,"c":-1},{"d":49.25,"r":0,"a":-4,"c":2},{"d":49.5,"r":1,"a":5,"c":-2},{"d":49.75,"r":-1,"a":-6,"c":1},
      {"d":50,"r":0,"a":3,"c":-1},{"d":50.25,"r":1,"a":-5,"c":2},{"d":50.5,"r":-1,"a":7,"c":-2},{"d":50.75,"r":0,"a":-3,"c":1},
      {"d":51,"r":1,"a":4,"c":-1},{"d":51.25,"r":-1,"a":-7,"c":2},{"d":51.5,"r":0,"a":5,"c":-2},{"d":51.75,"r":1,"a":-2,"c":0},
      {"d":52,"r":0,"a":6,"c":1},{"d":52.25,"r":-1,"a":-5,"c":-1},{"d":52.5,"r":1,"a":3,"c":2},{"d":52.75,"r":0,"a":-4,"c":-2},
      {"d":53,"r":1,"a":8,"c":1},{"d":53.25,"r":-1,"a":-6,"c":-1},{"d":53.5,"r":0,"a":4,"c":2},{"d":53.75,"r":1,"a":-3,"c":-2},
      {"d":54,"r":0,"a":5,"c":0},{"d":54.25,"r":-1,"a":-7,"c":1},{"d":54.5,"r":1,"a":3,"c":-1},{"d":54.75,"r":0,"a":-5,"c":2},
      {"d":55,"r":-1,"a":6,"c":-2},{"d":55.25,"r":1,"a":-2,"c":1},{"d":55.5,"r":0,"a":4,"c":-1},{"d":55.75,"r":-1,"a":-6,"c":2},
      {"d":56,"r":1,"a":5,"c":-2},{"d":56.25,"r":0,"a":-3,"c":1},{"d":56.5,"r":-1,"a":7,"c":-1},{"d":56.75,"r":1,"a":-4,"c":2},
      {"d":57,"r":0,"a":3,"c":-2},{"d":57.25,"r":-1,"a":-5,"c":0},{"d":57.5,"r":1,"a":6,"c":1},{"d":57.75,"r":0,"a":-8,"c":-1},
      {"d":58,"r":1,"a":4,"c":2},{"d":58.25,"r":-1,"a":-3,"c":-2},{"d":58.5,"r":0,"a":5,"c":1},{"d":58.75,"r":1,"a":-6,"c":-1},
      {"d":59,"r":0,"a":2,"c":2},{"d":59.25,"r":-1,"a":-4,"c":-2},{"d":59.5,"r":1,"a":7,"c":1},{"d":59.75,"r":0,"a":-5,"c":-1},
      {"d":60,"r":-1,"a":3,"c":2},{"d":60.25,"r":1,"a":-6,"c":-2},{"d":60.5,"r":0,"a":5,"c":0},{"d":60.75,"r":-1,"a":-3,"c":1},
      {"d":61,"r":1,"a":6,"c":-1},{"d":61.25,"r":0,"a":-4,"c":2},{"d":61.5,"r":-1,"a":4,"c":-2},{"d":61.75,"r":1,"a":5,"c":1},
      {"d":61.875,"r":3,"a":146,"c":-2},{"d":62,"r":-8,"a":-82,"c":3},{"d":62.125,"r":10,"a":110,"c":-3},{"d":62.25,"r":-5,"a":-25,"c":2},
      {"d":62.375,"r":4,"a":18,"c":-2},{"d":62.5,"r":-3,"a":-22,"c":1},{"d":62.625,"r":2,"a":8,"c":-1},{"d":62.75,"r":-1,"a":-6,"c":2},
      {"d":63,"r":0,"a":4,"c":-2},{"d":63.25,"r":1,"a":-5,"c":1},{"d":63.5,"r":-1,"a":6,"c":-1},{"d":63.75,"r":0,"a":-3,"c":2},
      {"d":64,"r":1,"a":5,"c":-2},{"d":64.25,"r":-1,"a":-7,"c":1},{"d":64.5,"r":0,"a":4,"c":-1},{"d":64.75,"r":1,"a":-2,"c":2},
      {"d":65,"r":0,"a":6,"c":-2},{"d":65.25,"r":-1,"a":-5,"c":0},{"d":65.5,"r":1,"a":3,"c":1},{"d":65.75,"r":0,"a":-4,"c":-1},
      {"d":66,"r":-1,"a":7,"c":2},{"d":66.25,"r":1,"a":-6,"c":-2},{"d":66.5,"r":0,"a":3,"c":1},{"d":66.75,"r":-1,"a":-5,"c":-1},
      {"d":67,"r":1,"a":4,"c":2},{"d":67.25,"r":0,"a":-3,"c":-2},{"d":67.5,"r":-1,"a":6,"c":1},{"d":67.75,"r":1,"a":-4,"c":-1},
      {"d":68.5,"r":-2,"a":1,"c":0},{"d":68.75,"r":0,"a":-5,"c":2},
      {"d":69,"r":1,"a":6,"c":-2},{"d":69.25,"r":-1,"a":-3,"c":1},{"d":69.5,"r":0,"a":5,"c":-1},{"d":69.75,"r":1,"a":-7,"c":2},
      {"d":70,"r":0,"a":3,"c":-2},{"d":70.25,"r":-1,"a":-4,"c":1},{"d":70.5,"r":1,"a":6,"c":-1},{"d":70.75,"r":0,"a":-2,"c":2},
      {"d":71,"r":-1,"a":5,"c":-2},{"d":71.25,"r":1,"a":-6,"c":0},{"d":71.5,"r":0,"a":4,"c":1},{"d":71.75,"r":-1,"a":-3,"c":-1},
      {"d":72,"r":1,"a":7,"c":2},{"d":72.25,"r":0,"a":-5,"c":-2},{"d":72.5,"r":1,"a":2,"c":1},
      {"d":73.25,"r":-3,"a":-1,"c":-1},{"d":73.5,"r":0,"a":5,"c":2},{"d":73.75,"r":1,"a":-4,"c":-2},
      {"d":74,"r":-1,"a":6,"c":1},{"d":74.25,"r":0,"a":-3,"c":-1},{"d":74.5,"r":1,"a":4,"c":2},{"d":74.75,"r":0,"a":-6,"c":-2},
      {"d":75,"r":-1,"a":3,"c":0},{"d":75.25,"r":1,"a":-5,"c":1},{"d":75.5,"r":0,"a":6,"c":-1},{"d":75.75,"r":-1,"a":-14,"c":2},
      {"d":76,"r":1,"a":5,"c":-2},{"d":76.25,"r":0,"a":-3,"c":1},{"d":76.5,"r":-1,"a":7,"c":-1},{"d":76.75,"r":1,"a":-4,"c":2},
      {"d":77,"r":0,"a":3,"c":-2},{"d":77.25,"r":1,"a":-6,"c":1},{"d":77.5,"r":-1,"a":5,"c":-1},{"d":77.75,"r":0,"a":-2,"c":2},
      {"d":78,"r":1,"a":6,"c":-2},{"d":78.25,"r":0,"a":-5,"c":0},{"d":78.5,"r":-1,"a":4,"c":1},{"d":78.75,"r":1,"a":-3,"c":-1},
      {"d":79,"r":0,"a":7,"c":2},{"d":79.25,"r":-1,"a":-6,"c":-2},{"d":79.5,"r":1,"a":3,"c":1},{"d":79.75,"r":0,"a":-4,"c":-1},
      {"d":80,"r":1,"a":5,"c":2},{"d":80.25,"r":-1,"a":-7,"c":-2},{"d":80.5,"r":0,"a":4,"c":1},{"d":80.75,"r":1,"a":-2,"c":-1},
      {"d":81,"r":0,"a":6,"c":2},{"d":81.25,"r":-1,"a":-5,"c":-2},{"d":81.5,"r":1,"a":3,"c":0},{"d":81.75,"r":0,"a":-4,"c":1},
      {"d":82,"r":2,"a":-6,"c":-1},
      {"d":83,"r":-2,"a":3,"c":1},{"d":83.25,"r":0,"a":-5,"c":-2},{"d":83.5,"r":1,"a":6,"c":2},{"d":83.75,"r":-1,"a":-3,"c":-1},
      {"d":84,"r":0,"a":4,"c":1},{"d":84.25,"r":1,"a":-6,"c":-2},{"d":84.5,"r":0,"a":5,"c":2},{"d":84.75,"r":-1,"a":-2,"c":-1},
      {"d":85,"r":1,"a":7,"c":1},{"d":85.25,"r":0,"a":-5,"c":-2},{"d":85.5,"r":-1,"a":3,"c":2},{"d":85.75,"r":1,"a":-4,"c":0},
      {"d":86,"r":0,"a":6,"c":-1},{"d":86.25,"r":-1,"a":-3,"c":1},{"d":86.5,"r":1,"a":5,"c":-2},{"d":86.75,"r":0,"a":-7,"c":2},
      {"d":87,"r":-1,"a":4,"c":-1},{"d":87.25,"r":1,"a":-2,"c":1},{"d":87.5,"r":0,"a":6,"c":-2},{"d":87.75,"r":-1,"a":-4,"c":2},
      {"d":87.875,"r":2,"a":48,"c":-2},{"d":88,"r":-3,"a":-30,"c":2},{"d":88.125,"r":2,"a":28,"c":-3},{"d":88.25,"r":-2,"a":-12,"c":2},
      {"d":88.375,"r":1,"a":15,"c":-1},{"d":88.5,"r":-1,"a":-8,"c":1},{"d":88.625,"r":1,"a":10,"c":-2},{"d":88.75,"r":0,"a":4,"c":2},
      {"d":89,"r":1,"a":-5,"c":-1},{"d":89.25,"r":-1,"a":6,"c":1},{"d":89.5,"r":0,"a":-3,"c":-2},{"d":89.75,"r":1,"a":5,"c":2},
      {"d":90,"r":0,"a":-4,"c":-1},{"d":90.25,"r":-1,"a":6,"c":1},{"d":90.5,"r":1,"a":-5,"c":-2},{"d":90.75,"r":0,"a":3,"c":1},
      {"d":0.125,"r":0,"a":-12,"c":-3},{"d":0.375,"r":1,"a":10,"c":3},{"d":0.625,"r":-1,"a":-6,"c":-2},{"d":0.875,"r":0,"a":7,"c":3},
      {"d":1.125,"r":1,"a":-4,"c":2},{"d":1.375,"r":0,"a":6,"c":-3},{"d":1.625,"r":-1,"a":-5,"c":3},{"d":1.875,"r":1,"a":7,"c":-2},
      {"d":2.125,"r":0,"a":-4,"c":3},{"d":2.375,"r":-1,"a":6,"c":-2},{"d":2.625,"r":1,"a":-5,"c":2},{"d":2.875,"r":0,"a":4,"c":-3},
      {"d":3.125,"r":1,"a":-5,"c":-2},{"d":3.375,"r":0,"a":7,"c":3},{"d":3.625,"r":-1,"a":-4,"c":-3},{"d":3.875,"r":0,"a":8,"c":2},
      {"d":4.125,"r":0,"a":-6,"c":3},{"d":4.375,"r":1,"a":5,"c":-3},{"d":4.625,"r":0,"a":-7,"c":2},{"d":4.875,"r":-1,"a":4,"c":-2},
      {"d":5.125,"r":-1,"a":-4,"c":-3},{"d":5.375,"r":0,"a":6,"c":2},{"d":5.625,"r":1,"a":-5,"c":-2},{"d":5.875,"r":0,"a":7,"c":3},
      {"d":6.125,"r":1,"a":-3,"c":2},{"d":6.375,"r":0,"a":7,"c":-3},{"d":6.625,"r":-1,"a":-6,"c":3},{"d":6.875,"r":1,"a":5,"c":-2},
      {"d":7.125,"r":0,"a":-6,"c":3},{"d":7.375,"r":-1,"a":5,"c":-2},{"d":7.625,"r":0,"a":-4,"c":2},{"d":7.875,"r":1,"a":7,"c":-3},
      {"d":8.125,"r":1,"a":-7,"c":-2},{"d":8.375,"r":0,"a":4,"c":3},{"d":8.625,"r":-1,"a":-5,"c":-3},{"d":8.875,"r":0,"a":6,"c":2},
      {"d":9.125,"r":0,"a":-5,"c":3},{"d":9.375,"r":1,"a":7,"c":-3},{"d":9.625,"r":0,"a":-3,"c":2},{"d":9.875,"r":-1,"a":6,"c":-2},
      {"d":10.125,"r":-1,"a":-5,"c":-3},{"d":10.375,"r":0,"a":4,"c":2},{"d":10.625,"r":1,"a":-6,"c":-3},{"d":10.875,"r":0,"a":5,"c":3},
      {"d":11.125,"r":1,"a":-6,"c":2},{"d":11.375,"r":0,"a":-7,"c":-3},{"d":11.625,"r":1,"a":6,"c":3},
      {"d":12.875,"r":-1,"a":4,"c":-2},
      {"d":13.125,"r":0,"a":-4,"c":3},{"d":13.375,"r":1,"a":5,"c":-2},{"d":13.625,"r":-1,"a":-6,"c":2},{"d":13.875,"r":0,"a":7,"c":-3},
      {"d":14.125,"r":1,"a":-3,"c":-2},{"d":14.375,"r":0,"a":6,"c":3},
      {"d":16.625,"r":0,"a":5,"c":-3},{"d":16.875,"r":1,"a":-3,"c":2},
      {"d":17.125,"r":0,"a":-6,"c":-3},{"d":17.375,"r":-1,"a":5,"c":3},{"d":17.625,"r":1,"a":-4,"c":-2},{"d":17.875,"r":0,"a":6,"c":3},
      {"d":18.125,"r":1,"a":-5,"c":2},{"d":18.375,"r":0,"a":7,"c":-3},{"d":18.625,"r":-1,"a":-6,"c":3},{"d":18.875,"r":0,"a":4,"c":-2},
      {"d":19.125,"r":0,"a":-4,"c":3},{"d":19.375,"r":1,"a":6,"c":-2},{"d":19.625,"r":0,"a":-5,"c":2},{"d":19.875,"r":-1,"a":7,"c":-3},
      {"d":20.125,"r":-1,"a":-5,"c":-2},{"d":20.375,"r":0,"a":6,"c":3},{"d":20.625,"r":1,"a":-4,"c":-3},{"d":20.875,"r":0,"a":5,"c":2},
      {"d":21.125,"r":1,"a":-6,"c":3},{"d":21.375,"r":0,"a":4,"c":-3},{"d":21.625,"r":-1,"a":-7,"c":2},{"d":21.875,"r":1,"a":6,"c":-2},
      {"d":22.125,"r":0,"a":-4,"c":-3},{"d":22.375,"r":-1,"a":7,"c":2},{"d":22.625,"r":0,"a":-5,"c":-2},{"d":22.875,"r":1,"a":6,"c":3},
      {"d":23.125,"r":1,"a":-5,"c":2},{"d":23.375,"r":0,"a":6,"c":-3},{"d":23.625,"r":-1,"a":-3,"c":3},{"d":23.875,"r":0,"a":4,"c":-3},
      {"d":24.125,"r":0,"a":-6,"c":3},{"d":24.375,"r":1,"a":5,"c":-2},{"d":24.625,"r":0,"a":-4,"c":2},{"d":24.875,"r":-1,"a":7,"c":-2},
      {"d":25.125,"r":-1,"a":-5,"c":-3},{"d":25.375,"r":0,"a":6,"c":3},{"d":25.625,"r":1,"a":-7,"c":-2},{"d":25.875,"r":0,"a":5,"c":3},
      {"d":26.125,"r":1,"a":6,"c":2},{"d":26.375,"r":0,"a":-9,"c":-3},
      {"d":27.875,"r":0,"a":4,"c":2},
      {"d":28.125,"r":1,"a":6,"c":-3},{"d":28.375,"r":0,"a":-5,"c":3},{"d":28.625,"r":-1,"a":7,"c":-2},{"d":28.875,"r":0,"a":-4,"c":2},
      {"d":29.125,"r":0,"a":5,"c":3},{"d":29.375,"r":1,"a":-6,"c":-2},{"d":29.625,"r":0,"a":4,"c":3},{"d":29.875,"r":-1,"a":-5,"c":-3},
      {"d":30.125,"r":-1,"a":6,"c":-2},{"d":30.375,"r":0,"a":-4,"c":3},{"d":30.625,"r":1,"a":5,"c":-2},{"d":30.875,"r":0,"a":-7,"c":2},
      {"d":31.125,"r":1,"a":5,"c":3},{"d":31.375,"r":0,"a":-6,"c":-3},{"d":31.625,"r":-1,"a":7,"c":2},{"d":31.875,"r":1,"a":-5,"c":-3},
      {"d":32.125,"r":0,"a":6,"c":-2},{"d":32.375,"r":-1,"a":-4,"c":2},{"d":32.625,"r":0,"a":5,"c":-3},{"d":32.875,"r":1,"a":-6,"c":3},
      {"d":33.125,"r":1,"a":5,"c":3},{"d":33.375,"r":0,"a":-7,"c":-3},{"d":33.625,"r":-1,"a":4,"c":2},{"d":33.875,"r":0,"a":-5,"c":-2},
      {"d":34.125,"r":0,"a":4,"c":-3},{"d":34.375,"r":1,"a":-5,"c":2},{"d":34.625,"r":0,"a":6,"c":-2},{"d":34.875,"r":-1,"a":-7,"c":3},
      {"d":35.125,"r":-1,"a":5,"c":2},{"d":35.375,"r":0,"a":-4,"c":-3},{"d":35.625,"r":1,"a":6,"c":3},{"d":35.875,"r":0,"a":-5,"c":-2},
      {"d":36.125,"r":1,"a":5,"c":3},{"d":36.375,"r":0,"a":-6,"c":-2},{"d":36.625,"r":-1,"a":4,"c":2},{"d":36.875,"r":0,"a":-7,"c":-3},
      {"d":37.125,"r":0,"a":6,"c":-2},{"d":37.375,"r":1,"a":-5,"c":3},{"d":37.625,"r":0,"a":7,"c":-3},{"d":37.875,"r":-1,"a":-4,"c":2},
      {"d":38.125,"r":-1,"a":6,"c":3},{"d":38.375,"r":0,"a":-5,"c":-3},{"d":38.625,"r":1,"a":7,"c":2},{"d":38.875,"r":0,"a":-6,"c":-2},
      {"d":39.125,"r":1,"a":4,"c":-3},{"d":39.375,"r":0,"a":-6,"c":2},{"d":39.625,"r":-1,"a":5,"c":-2},{"d":39.875,"r":1,"a":-5,"c":3},
      {"d":40.125,"r":0,"a":5,"c":2},{"d":40.375,"r":-1,"a":-6,"c":-3},{"d":40.625,"r":0,"a":4,"c":3},{"d":40.875,"r":1,"a":-3,"c":-2},
      {"d":41.125,"r":1,"a":6,"c":3},{"d":41.375,"r":0,"a":-5,"c":-2},{"d":41.625,"r":-1,"a":6,"c":2},{"d":41.875,"r":0,"a":-4,"c":-3},
      {"d":42.125,"r":0,"a":5,"c":-2},{"d":42.375,"r":1,"a":-4,"c":3},{"d":42.625,"r":0,"a":6,"c":-3},{"d":42.875,"r":-1,"a":-5,"c":2},
      {"d":44.125,"r":-1,"a":-4,"c":3},{"d":44.375,"r":0,"a":5,"c":-3},{"d":44.625,"r":1,"a":-6,"c":2},{"d":44.875,"r":0,"a":5,"c":-2},
      {"d":45.125,"r":1,"a":-5,"c":-3},{"d":45.375,"r":0,"a":6,"c":2},{"d":45.625,"r":-1,"a":-4,"c":-2},{"d":45.875,"r":0,"a":6,"c":3},
      {"d":46.125,"r":0,"a":-6,"c":2},{"d":46.375,"r":-1,"a":5,"c":-3},{"d":46.625,"r":0,"a":-4,"c":3},{"d":46.875,"r":1,"a":6,"c":-2},
      {"d":47.125,"r":1,"a":-5,"c":3},{"d":47.375,"r":0,"a":6,"c":-2},{"d":47.625,"r":-1,"a":-4,"c":2},{"d":47.875,"r":0,"a":5,"c":-3},
      {"d":49.125,"r":0,"a":-6,"c":-2},{"d":49.375,"r":1,"a":5,"c":3},{"d":49.625,"r":0,"a":-4,"c":-3},{"d":49.875,"r":-1,"a":6,"c":2},
      {"d":50.125,"r":-1,"a":-4,"c":3},{"d":50.375,"r":0,"a":6,"c":-3},{"d":50.625,"r":1,"a":-5,"c":2},{"d":50.875,"r":0,"a":7,"c":-2},
      {"d":51.125,"r":1,"a":-5,"c":-3},{"d":51.375,"r":0,"a":6,"c":2},{"d":51.625,"r":-1,"a":-4,"c":-2},{"d":51.875,"r":1,"a":5,"c":3},
      {"d":52.125,"r":0,"a":-4,"c":2},{"d":52.375,"r":-1,"a":5,"c":-3},{"d":52.625,"r":0,"a":-6,"c":3},{"d":52.875,"r":1,"a":7,"c":-2},
      {"d":53.125,"r":1,"a":-5,"c":3},{"d":53.375,"r":0,"a":6,"c":-2},{"d":53.625,"r":-1,"a":-4,"c":2},{"d":53.875,"r":0,"a":6,"c":-3},
      {"d":54.125,"r":0,"a":-4,"c":-2},{"d":54.375,"r":1,"a":5,"c":3},{"d":54.625,"r":0,"a":-6,"c":-3},{"d":54.875,"r":-1,"a":5,"c":2},
      {"d":55.125,"r":-1,"a":-5,"c":3},{"d":55.375,"r":0,"a":6,"c":-3},{"d":55.625,"r":1,"a":-4,"c":2},{"d":55.875,"r":0,"a":7,"c":-2},
      {"d":56.125,"r":1,"a":-5,"c":-3},{"d":56.375,"r":0,"a":6,"c":2},{"d":56.625,"r":-1,"a":-4,"c":-2},{"d":56.875,"r":0,"a":5,"c":3},
      {"d":57.125,"r":0,"a":-6,"c":2},{"d":57.375,"r":-1,"a":5,"c":-3},{"d":57.625,"r":0,"a":-4,"c":3},{"d":57.875,"r":1,"a":6,"c":-2},
      {"d":58.125,"r":1,"a":-5,"c":3},{"d":58.375,"r":0,"a":4,"c":-2},{"d":58.625,"r":-1,"a":-6,"c":2},{"d":58.875,"r":0,"a":5,"c":-3},
      {"d":59.125,"r":0,"a":-6,"c":-2},{"d":59.375,"r":1,"a":5,"c":3},{"d":59.625,"r":0,"a":-4,"c":-3},{"d":59.875,"r":-1,"a":6,"c":2},
      {"d":60.125,"r":-1,"a":-5,"c":3},{"d":60.375,"r":0,"a":6,"c":-3},{"d":60.625,"r":1,"a":-4,"c":2},{"d":60.875,"r":0,"a":5,"c":-2},
      {"d":61.125,"r":1,"a":-5,"c":-3},{"d":61.375,"r":0,"a":6,"c":2},{"d":61.625,"r":-1,"a":-6,"c":-2},
      {"d":63.125,"r":0,"a":-5,"c":2},{"d":63.375,"r":1,"a":6,"c":-3},{"d":63.625,"r":0,"a":-4,"c":3},{"d":63.875,"r":-1,"a":5,"c":-2},
      {"d":64.125,"r":1,"a":-4,"c":3},{"d":64.375,"r":0,"a":6,"c":-2},{"d":64.625,"r":-1,"a":-5,"c":2},{"d":64.875,"r":0,"a":7,"c":-3},
      {"d":65.125,"r":0,"a":-5,"c":-2},{"d":65.375,"r":-1,"a":6,"c":3},{"d":65.625,"r":0,"a":-6,"c":-3},{"d":65.875,"r":1,"a":5,"c":2},
      {"d":66.125,"r":1,"a":-5,"c":3},{"d":66.375,"r":0,"a":4,"c":-3},{"d":66.625,"r":-1,"a":-6,"c":2},{"d":66.875,"r":0,"a":5,"c":-2},
      {"d":67.125,"r":0,"a":-5,"c":-3},{"d":67.375,"r":1,"a":6,"c":2},{"d":67.625,"r":0,"a":-4,"c":-2},
      {"d":68.625,"r":-1,"a":-4,"c":3},{"d":68.875,"r":0,"a":5,"c":-2},
      {"d":69.125,"r":1,"a":-4,"c":2},{"d":69.375,"r":0,"a":5,"c":-3},{"d":69.625,"r":-1,"a":-6,"c":3},{"d":69.875,"r":0,"a":5,"c":-2},
      {"d":70.125,"r":0,"a":-5,"c":3},{"d":70.375,"r":1,"a":6,"c":-2},{"d":70.625,"r":0,"a":-4,"c":2},{"d":70.875,"r":-1,"a":6,"c":-3},
      {"d":71.125,"r":-1,"a":-4,"c":-2},{"d":71.375,"r":0,"a":5,"c":3},{"d":71.625,"r":1,"a":-5,"c":-3},{"d":71.875,"r":0,"a":6,"c":2},
      {"d":72.125,"r":1,"a":-5,"c":3},{"d":72.375,"r":0,"a":6,"c":-3},
      {"d":73.375,"r":-1,"a":-4,"c":2},{"d":73.625,"r":0,"a":6,"c":-2},{"d":73.875,"r":1,"a":-5,"c":3},
      {"d":74.125,"r":0,"a":-5,"c":-3},{"d":74.375,"r":1,"a":4,"c":3},{"d":74.625,"r":0,"a":-6,"c":-2},{"d":74.875,"r":-1,"a":5,"c":2},
      {"d":75.125,"r":1,"a":-6,"c":3},{"d":75.375,"r":0,"a":5,"c":-2},{"d":75.625,"r":-1,"a":-4,"c":2},{"d":75.875,"r":0,"a":7,"c":-3},
      {"d":76.125,"r":0,"a":-5,"c":-2},{"d":76.375,"r":-1,"a":6,"c":3},{"d":76.625,"r":0,"a":-4,"c":-3},{"d":76.875,"r":1,"a":5,"c":2},
      {"d":77.125,"r":1,"a":-4,"c":3},{"d":77.375,"r":0,"a":5,"c":-3},{"d":77.625,"r":-1,"a":-6,"c":2},{"d":77.875,"r":0,"a":6,"c":-2},
      {"d":78.125,"r":0,"a":-4,"c":-3},{"d":78.375,"r":1,"a":6,"c":2},{"d":78.625,"r":0,"a":-5,"c":-2},{"d":78.875,"r":-1,"a":6,"c":3},
      {"d":79.125,"r":-1,"a":-5,"c":2},{"d":79.375,"r":0,"a":4,"c":-3},{"d":79.625,"r":1,"a":-6,"c":3},{"d":79.875,"r":0,"a":5,"c":-2},
      {"d":80.125,"r":1,"a":-5,"c":3},{"d":80.375,"r":0,"a":6,"c":-2},{"d":80.625,"r":-1,"a":-5,"c":2},{"d":80.875,"r":1,"a":6,"c":-3},
      {"d":81.125,"r":0,"a":-4,"c":-2},{"d":81.375,"r":-1,"a":5,"c":3},{"d":81.625,"r":0,"a":-6,"c":-3},{"d":81.875,"r":1,"a":5,"c":2},
      {"d":83.125,"r":1,"a":-4,"c":3},{"d":83.375,"r":0,"a":5,"c":-3},{"d":83.625,"r":-1,"a":-6,"c":2},{"d":83.875,"r":0,"a":6,"c":-2},
      {"d":84.125,"r":0,"a":-5,"c":-3},{"d":84.375,"r":1,"a":6,"c":2},{"d":84.625,"r":0,"a":-4,"c":-2},{"d":84.875,"r":-1,"a":5,"c":3},
      {"d":85.125,"r":-1,"a":-4,"c":2},{"d":85.375,"r":0,"a":6,"c":-3},{"d":85.625,"r":1,"a":-5,"c":3},{"d":85.875,"r":0,"a":6,"c":-2},
      {"d":86.125,"r":1,"a":-5,"c":3},{"d":86.375,"r":0,"a":6,"c":-2},{"d":86.625,"r":-1,"a":-4,"c":2},{"d":86.875,"r":0,"a":5,"c":-3},
      {"d":87.125,"r":0,"a":-5,"c":-2},{"d":87.375,"r":1,"a":4,"c":3},{"d":87.625,"r":0,"a":-5,"c":-3},
      {"d":89.125,"r":1,"a":5,"c":3},{"d":89.375,"r":0,"a":-4,"c":-2},{"d":89.625,"r":-1,"a":6,"c":2},{"d":89.875,"r":0,"a":-5,"c":-3},
      {"d":90.125,"r":0,"a":5,"c":-2},{"d":90.375,"r":1,"a":-6,"c":3},{"d":90.625,"r":0,"a":4,"c":-2}
    ]
  },
  "vconcat": [
    {
      "width": 1065,
      "height": 196,
      "data": {"name": "p1"},
      "layer": [
        {
          "mark": {"type": "point", "opacity": 0},
          "encoding": {
            "x": {"field": "d", "type": "quantitative", "scale": {"domain": [0, 90.8], "nice": false, "zero": false},
              "axis": {"orient": "top", "values": [0,2,4,6,8,10,12,14,16,18,20,22,24,26,28,30,32,34,36,38,40,42,44,46,48,50,52,54,56,58,60,62,64,66,68,70,72,74,76,78,80,82,84,86,88,90], "tickSize": -6, "labels": false, "grid": false, "title": null}},
            "y": {"field": "a", "type": "quantitative", "scale": {"domain": [-100, 150], "nice": false, "zero": false},
              "axis": {"orient": "right", "values": [-100,-50,0,50,100,150], "tickSize": -10, "labels": false, "grid": false, "title": null}}
          }
        },
        {
          "mark": {"type": "line", "strokeWidth": 1.1},
          "encoding": {
            "x": {"field": "d", "type": "quantitative",
              "axis": {"orient": "bottom", "values": [0,2,4,6,8,10,12,14,16,18,20,22,24,26,28,30,32,34,36,38,40,42,44,46,48,50,52,54,56,58,60,62,64,66,68,70,72,74,76,78,80,82,84,86,88,90],
                "labelExpr": "datum.value % 10 === 0 ? timeFormat(datetime(2017, 2, 1 + datum.value), '%d-%b-%Y') : ''",
                "tickSize": -6, "labelPadding": 14, "grid": true, "title": null}},
            "y": {"field": "r", "type": "quantitative",
              "axis": {"orient": "left", "values": [-100,-90,-80,-70,-60,-50,-40,-30,-20,-10,0,10,20,30,40,50,60,70,80,90,100,110,120,130,140,150],
                "labelExpr": "datum.value % 50 === 0 ? datum.label : ''",
                "tickSize": -10, "labelPadding": 18,
                "tickOpacity": {"condition": {"test": "datum.value % 50 === 0", "value": 1}, "value": 0},
                "grid": true,
                "gridDash": {"condition": {"test": "datum.value % 50 === 0", "value": []}, "value": [2, 3]},
                "gridColor": {"condition": {"test": "datum.value % 50 === 0", "value": "#dcdcdc"}, "value": "#cdcdcd"},
                "title": "Position error of GRACE-A (m)", "titlePadding": 12}},
            "color": {"datum": "radial",
              "scale": {"domain": ["radial", "along-track", "cross-track"], "range": ["#0072BD", "#D95319", "#EDB120"]},
              "legend": {"title": null, "symbolOpacity": 0.55}}
          }
        },
        {
          "mark": {"type": "line", "strokeWidth": 1.1},
          "encoding": {
            "x": {"field": "d", "type": "quantitative", "axis": null},
            "y": {"field": "a", "type": "quantitative", "axis": null},
            "color": {"datum": "along-track"}
          }
        },
        {
          "mark": {"type": "line", "strokeWidth": 1.8},
          "encoding": {
            "x": {"field": "d", "type": "quantitative", "axis": null},
            "y": {"field": "c", "type": "quantitative", "axis": null},
            "color": {"datum": "cross-track"}
          }
        }
      ],
      "resolve": {"axis": {"x": "independent", "y": "independent"}}
    },
    {
      "width": 1065,
      "height": 197,
      "data": {"name": "p2"},
      "layer": [
        {
          "mark": {"type": "point", "opacity": 0},
          "encoding": {
            "x": {"field": "d", "type": "quantitative", "scale": {"domain": [0, 90.8], "nice": false, "zero": false},
              "axis": {"orient": "top", "values": [0,2,4,6,8,10,12,14,16,18,20,22,24,26,28,30,32,34,36,38,40,42,44,46,48,50,52,54,56,58,60,62,64,66,68,70,72,74,76,78,80,82,84,86,88,90], "tickSize": -6, "labels": false, "grid": false, "title": null}},
            "y": {"field": "a", "type": "quantitative", "scale": {"domain": [-100, 150], "nice": false, "zero": false},
              "axis": {"orient": "right", "values": [-100,-50,0,50,100,150], "tickSize": -10, "labels": false, "grid": false, "title": null}}
          }
        },
        {
          "mark": {"type": "line", "strokeWidth": 1.1},
          "encoding": {
            "x": {"field": "d", "type": "quantitative",
              "axis": {"orient": "bottom", "values": [0,2,4,6,8,10,12,14,16,18,20,22,24,26,28,30,32,34,36,38,40,42,44,46,48,50,52,54,56,58,60,62,64,66,68,70,72,74,76,78,80,82,84,86,88,90],
                "labelExpr": "datum.value % 10 === 0 ? timeFormat(datetime(2017, 2, 1 + datum.value), '%d-%b-%Y') : ''",
                "tickSize": -6, "labelPadding": 14, "grid": true, "title": null}},
            "y": {"field": "r", "type": "quantitative",
              "axis": {"orient": "left", "values": [-100,-90,-80,-70,-60,-50,-40,-30,-20,-10,0,10,20,30,40,50,60,70,80,90,100,110,120,130,140,150],
                "labelExpr": "datum.value % 50 === 0 ? datum.label : ''",
                "tickSize": -10, "labelPadding": 18,
                "tickOpacity": {"condition": {"test": "datum.value % 50 === 0", "value": 1}, "value": 0},
                "grid": true,
                "gridDash": {"condition": {"test": "datum.value % 50 === 0", "value": []}, "value": [2, 3]},
                "gridColor": {"condition": {"test": "datum.value % 50 === 0", "value": "#dcdcdc"}, "value": "#cdcdcd"},
                "title": "Position error of GRACE-A (m)", "titlePadding": 12}},
            "color": {"datum": "radial",
              "scale": {"domain": ["radial", "along-track", "cross-track"], "range": ["#0072BD", "#D95319", "#EDB120"]},
              "legend": {"title": null}}
          }
        },
        {
          "mark": {"type": "line", "strokeWidth": 1.1},
          "encoding": {
            "x": {"field": "d", "type": "quantitative", "axis": null},
            "y": {"field": "a", "type": "quantitative", "axis": null},
            "color": {"datum": "along-track"}
          }
        },
        {
          "mark": {"type": "line", "strokeWidth": 1.8},
          "encoding": {
            "x": {"field": "d", "type": "quantitative", "axis": null},
            "y": {"field": "c", "type": "quantitative", "axis": null},
            "color": {"datum": "cross-track"}
          }
        }
      ],
      "resolve": {"axis": {"x": "independent", "y": "independent"}}
    }
  ],
  "spacing": 80,
  "bounds": "flush",
  "resolve": {"scale": {"color": "independent"}}
}
